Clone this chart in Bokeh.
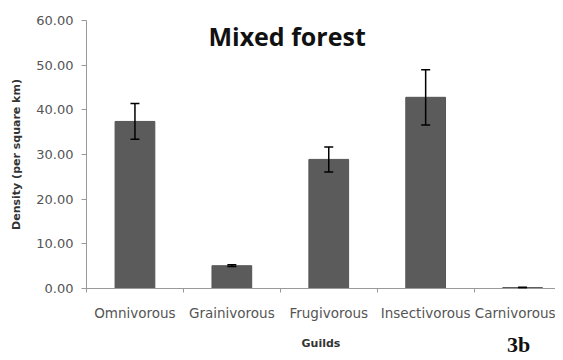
from bokeh.plotting import figure
from bokeh.layouts import column
from bokeh.models import (ColumnDataSource, Range1d, FixedTicker, PrintfTickFormatter,
                          Whisker, TeeHead, Label, LinearAxis, Div)
from bokeh.embed import file_html
from bokeh.resources import INLINE

guilds = ["Omnivorous", "Grainivorous", "Frugivorous", "Insectivorous", "Carnivorous"]
density = [37.4, 5.1, 28.9, 42.8, 0.2]
errors = [4.0, 0.2, 2.8, 6.2, 0.1]
y_ticks = [0, 10, 20, 30, 40, 50, 60]

xs = [i + 0.5 for i in range(len(guilds))]
src = ColumnDataSource(dict(
    x=xs, top=density,
    upper=[d + e for d, e in zip(density, errors)],
    lower=[d - e for d, e in zip(density, errors)],
))

p = figure(width=555, height=352, output_backend="svg", toolbar_location=None,
           x_range=Range1d(0, 4.84), y_range=Range1d(0, 60),
           min_border_left=86, min_border_right=0, min_border_top=20,
           min_border_bottom=64, x_axis_location=None, y_axis_location=None)
p.outline_line_color = None
p.xgrid.visible = False
p.ygrid.visible = False
p.background_fill_color = "white"
p.border_fill_color = "white"

p.vbar(x="x", top="top", width=0.41, source=src, fill_color="#5b5b5b",
       line_color="#555555")

w = Whisker(source=src, base="x", upper="upper", lower="lower",
            line_color="black", line_width=1.5, level="overlay")
w.upper_head = TeeHead(size=9, line_color="black", line_width=1.5)
w.lower_head = TeeHead(size=9, line_color="black", line_width=1.5)
p.add_layout(w)

font = "DejaVu Sans"
yax = LinearAxis(ticker=FixedTicker(ticks=y_ticks),
                 formatter=PrintfTickFormatter(format="%.2f"))
yax.axis_label = "Density (per square km)"
yax.axis_label_text_font = font
yax.axis_label_text_font_size = "11px"
yax.axis_label_text_font_style = "bold"
yax.axis_label_text_color = "#333333"
yax.axis_label_standoff = 10
yax.major_label_text_font = font
yax.major_label_text_font_size = "13px"
yax.major_label_text_color = "#555555"
yax.major_label_standoff = 8
yax.axis_line_color = "#999999"
yax.major_tick_line_color = "#999999"
yax.major_tick_out = 5
yax.major_tick_in = 0
yax.minor_tick_line_color = None
p.add_layout(yax, "left")

xax = LinearAxis(ticker=FixedTicker(ticks=xs, minor_ticks=[0, 1, 2, 3, 4, 5]),
                 major_label_overrides={x: g for x, g in zip(xs, guilds)})
xax.axis_label = "Guilds"
xax.axis_label_text_font = font
xax.axis_label_text_font_size = "11px"
xax.axis_label_text_font_style = "bold"
xax.axis_label_text_color = "#333333"
xax.axis_label_standoff = 13
xax.major_label_text_font = font
xax.major_label_text_font_size = "13.5px"
xax.major_label_text_color = "#555555"
xax.major_label_standoff = 10
xax.axis_line_color = "#999999"
xax.major_tick_line_color = None
xax.minor_tick_line_color = "#999999"
xax.minor_tick_out = 4
xax.minor_tick_in = 0
p.add_layout(xax, "below")

p.add_layout(Label(x=2.07, y=56.6, text="Mixed forest", text_font="Open Sans",
                   text_font_style="bold", text_font_size="25px",
                   text_align="center", text_baseline="middle",
                   text_color="#111111"))

tag = Div(text="3b", width=45, height=24, margin=(-19, 0, 0, 507),
          styles={"font-family": "Liberation Serif", "font-weight": "bold",
                  "font-size": "22px", "color": "#111111",
                  "position": "relative", "z-index": "10",
                  "line-height": "24px"})

layout = column(p, tag, spacing=0)
open("out.html", "w").write(file_html(layout, INLINE))
